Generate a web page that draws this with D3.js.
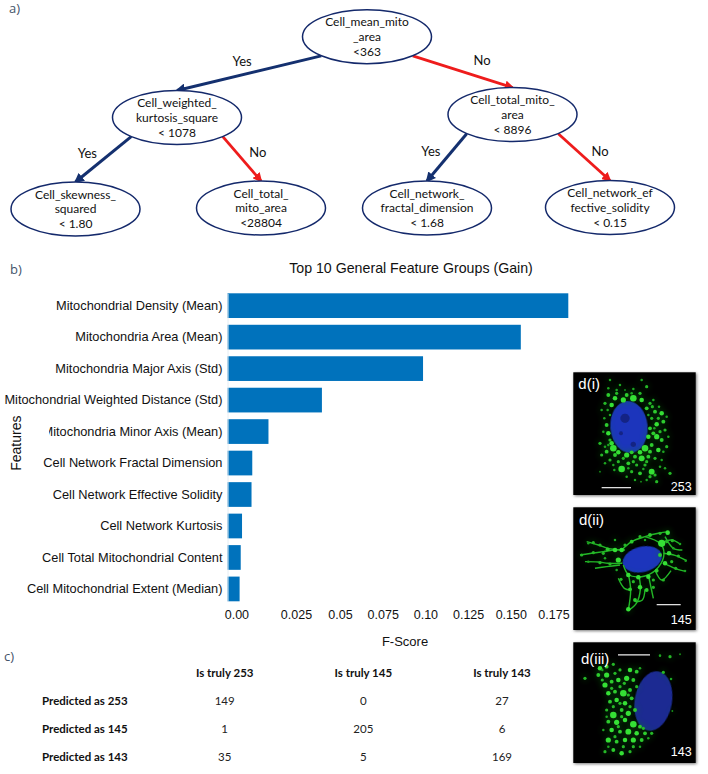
<!DOCTYPE html>
<html>
<head>
<meta charset="utf-8">
<title>Mitochondrial feature figure</title>
<script src="https://cdn.jsdelivr.net/npm/d3@7"></script>
<style>
  html, body { margin: 0; padding: 0; background: #fff; }
  svg { display: block; }
  .panel-tag { font: 13px "Open Sans", sans-serif; fill: #44546a; }
  .node-text { font: 12px Lato, sans-serif; fill: #111; text-anchor: middle; }
  .edge-text { font: 13px Lato, sans-serif; fill: #111; text-anchor: middle; }
  .chart-text { font-family: "Liberation Sans", Arial, sans-serif; fill: #111; }
  .table-head { font: bold 11.5px Lato, sans-serif; fill: #111; }
  .table-cell { font: 11.5px Lato, sans-serif; fill: #222; text-anchor: middle; }
  .micro-text { font-family: "Liberation Sans", Arial, sans-serif; fill: #fff; }
</style>
</head>
<body>
<svg id="fig" width="708" height="774"></svg>
<script>
// ---------- a) decision tree ----------
const treeNodes = [
  { id: 'root', lines: ['Cell_mean_mito', '_area', '<363'] },
  { id: 'l', parent: 'root', side: 'Yes', lines: ['Cell_weighted_', 'kurtosis_square', '< 1078'] },
  { id: 'r', parent: 'root', side: 'No', lines: ['Cell_total_mito_', 'area', '< 8896'] },
  { id: 'll', parent: 'l', side: 'Yes', lines: ['Cell_skewness_', 'squared', '< 1.80'] },
  { id: 'lr', parent: 'l', side: 'No', lines: ['Cell_total_', 'mito_area', '<28804'] },
  { id: 'rl', parent: 'r', side: 'Yes', lines: ['Cell_network_', 'fractal_dimension', '< 1.68'] },
  { id: 'rr', parent: 'r', side: 'No', lines: ['Cell_network_ef', 'fective_solidity', '< 0.15'] },
];

// ---------- b) bar chart ----------
const featureNames = [
  'Mitochondrial Density (Mean)',
  'Mitochondria Area (Mean)',
  'Mitochondria Major Axis (Std)',
  'Mitochondrial Weighted Distance (Std)',
  'Mitochondria Minor Axis (Mean)',
  'Cell Network Fractal Dimension',
  'Cell Network Effective Solidity',
  'Cell Network Kurtosis',
  'Cell Total Mitochondrial Content',
  'Cell Mitochondrial Extent (Median)',
];
const fScores = [0.183, 0.1575, 0.105, 0.0507, 0.022, 0.0133, 0.0129, 0.0078, 0.0071, 0.0065];
const tickValues = [0, 0.025, 0.05, 0.075, 0.1, 0.125, 0.15, 0.175];
const tickLabels = ['0.00', '0.025', '0.05', '0.075', '0.10', '0.125', '0.150', '0.175'];

// ---------- c) confusion table ----------
const trueLabels = ['Is truly 253', 'Is truly 145', 'Is truly 143'];
const predLabels = ['Predicted as 253', 'Predicted as 145', 'Predicted as 143'];
const confusion = [
  [149, 0, 27],
  [1, 205, 6],
  [35, 5, 169],
];

// ---------- d) micrographs: puncta [x, y, r] and strands read off a 3x crop of each panel ----------
const puncta253 = [
  [135,45,2],[165,60,2],[230,45,2],[245,65,3],[205,72,2],[130,90,4],[150,100,5],[175,105,6],[205,100,8],[230,105,5],
  [245,130,4],[120,115,3],[110,135,2],[140,120,5],[200,85,2],[265,105,2],[270,140,4],[290,145,5],[295,170,4],[260,160,3],
  [275,178,5],[255,190,4],[300,195,3],[250,215,5],[275,215,6],[290,225,4],[305,245,3],[260,240,4],[280,255,5],[240,250,8],
  [270,280,3],[135,150,2],[125,180,4],[115,200,2],[130,205,5],[105,235,3],[140,235,5],[145,250,8],[125,260,4],[110,270,3],
  [160,262,5],[185,270,6],[210,275,4],[230,280,7],[250,275,4],[135,285,3],[160,290,3],[190,295,4],[215,300,3],[240,300,3],
  [170,312,8],[145,300,2],[200,320,3],[225,325,4],[260,320,7],[270,330,3],[300,310,2],[315,325,3],[185,335,2],[210,345,2],
  [245,345,2],[275,350,3],[290,285,2],[120,295,2],[105,320,1],[130,70,2],[155,85,3],[185,90,4],[225,85,3],[255,115,3],
  [280,160,3],[285,200,3],[265,205,4],[295,260,2],[255,260,4],[225,262,5],[200,262,4],[150,270,4],[135,225,3],[120,245,2],
  [155,75,2],[180,75,1],[118,160,2],[128,135,2],[262,125,3],[282,125,2],[250,150,2],[305,155,2],[310,215,2],[268,190,2],
  [245,290,3],[205,290,3],[175,280,3],[130,240,2],[148,315,2],[190,310,2],[235,312,2],[285,305,2],[255,335,3],[228,350,1],
];
const puncta145 = [
  [50,165,3],[70,130,2],[85,128,3],[105,135,3],[128,148,4],[150,150,5],[85,158,3],[115,160,3],[70,185,2],[105,188,3],
  [135,192,3],[160,180,6],[170,150,5],[200,125,4],[225,110,3],[255,105,4],[285,100,3],[308,98,5],[290,130,9],[322,122,3],
  [345,132,2],[312,160,5],[340,168,3],[362,182,2],[300,190,5],[332,205,3],[360,213,2],[275,212,4],[295,240,3],[190,225,5],
  [220,232,5],[250,230,5],[195,268,4],[225,262,5],[265,262,3],[210,300,4],[190,328,5],[245,270,4],[168,238,3],[155,210,2],
  [120,175,2],[150,120,2],[180,135,3],[305,125,3],[240,120,2],[325,145,2],[285,165,4],[320,185,3],[265,240,3],[205,245,3],
];
const strands145 = [
  [[45,165],[80,160],[115,155],[150,150],[180,150]],
  [[65,125],[100,135],[130,145],[170,150]],
  [[60,185],[100,186],[130,190],[172,190]],
  [[90,205],[125,200],[165,195]],
  [[170,150],[200,125],[240,110],[280,100],[312,95]],
  [[285,130],[320,120],[345,132]],
  [[295,160],[330,166],[365,182]],
  [[298,190],[330,205],[362,214]],
  [[270,210],[290,240],[318,212]],
  [[190,222],[197,270],[190,330]],
  [[222,228],[226,268],[214,310],[192,330]],
  [[250,225],[265,295]],
  [[175,195],[192,225],[240,228],[280,202],[297,160],[285,130],[240,110]],
  [[210,305],[232,300],[240,268]],
  [[160,235],[178,265],[197,270]],
  [[300,110],[325,145],[352,150]],
];
const puncta143 = [
  [105,100,5],[125,95,4],[145,88,3],[100,120,4],[125,120,6],[150,115,3],[165,105,3],[195,105,5],[215,110,4],[60,130,3],
  [120,150,6],[140,140,4],[160,135,5],[185,130,6],[205,135,4],[225,100,2],[130,175,5],[150,170,4],[175,175,8],[195,165,4],
  [135,200,4],[155,195,5],[180,205,5],[200,190,4],[125,225,3],[145,240,8],[170,225,4],[190,235,6],[210,225,4],[130,260,4],
  [155,262,6],[180,255,5],[205,268,8],[225,275,4],[140,285,5],[165,290,4],[190,290,7],[215,295,5],[240,295,4],[130,315,6],
  [155,320,4],[180,315,5],[205,315,6],[230,315,4],[260,295,3],[120,350,3],[145,345,4],[170,355,5],[195,350,3],[225,335,2],
  [315,65,3],[295,112,3],[318,132,2],[285,62,2],[345,58,1],[322,228,1],
  [112,135,3],[140,160,3],[165,155,3],[112,105,2],[178,145,3],[215,155,3],[145,215,3],[165,205,3],[190,180,3],[125,245,2],
  [170,245,3],[195,215,3],[115,285,2],[150,305,3],[175,335,3],[205,335,3],[250,310,2],[160,275,3],[235,280,3],[130,335,2],
];
const nuclei = [
  { cx: 192, cy: 186, rx: 56, ry: 78, tilt: -5, fill: '#1c34bc' },
  { cx: 232, cy: 178, rx: 60, ry: 38, tilt: -14, fill: '#1c34bc' },
  { cx: 265, cy: 198, rx: 56, ry: 90, tilt: 10, fill: '#1a2a92' },
];
const nucleusSpots = [
  [[180,160,14],[205,238,8],[168,205,6]],
  [],
  [],
];

const svg = d3.select('#fig');
const defs = svg.append('defs');

defs.append('filter').attr('id', 'soft').append('feGaussianBlur').attr('stdDeviation', 0.7);
defs.append('filter').attr('id', 'softer').append('feGaussianBlur').attr('stdDeviation', 3);
defs.append('filter').attr('id', 'shadow').append('feGaussianBlur').attr('stdDeviation', 1.6);

// panel tags
svg.append('text').attr('class', 'panel-tag').attr('x', 9).attr('y', 13).text('a)');
svg.append('text').attr('class', 'panel-tag').attr('x', 10).attr('y', 274).text('b)');
svg.append('text').attr('class', 'panel-tag').attr('x', 4).attr('y', 661).text('c)');

// ---------- Tree ----------
const NODE_RX = 64.5, NODE_RY = 27;
const nodeX = d3.scaleOrdinal(treeNodes.map(d => d.id), [367, 177, 512.5, 75.5, 261, 427, 610]);
const nodeY = d3.scaleOrdinal(treeNodes.map(d => d.id), [36.7, 117.5, 114.5, 209, 208, 208, 207.5]);
const edgeColor = { Yes: '#14306f', No: '#ee1c1c' };
const edgeWidth = { Yes: 3, No: 2.8 };

Object.keys(edgeColor).forEach(side => {
  defs.append('marker')
    .attr('id', 'arrow' + side)
    .attr('viewBox', '0 0 10 10').attr('refX', 8).attr('refY', 5)
    .attr('markerWidth', 3.4).attr('markerHeight', 3.4)
    .attr('markerUnits', 'strokeWidth')
    .attr('orient', 'auto')
    .append('path').attr('d', 'M0,0L10,5L0,10z').attr('fill', edgeColor[side]);
});

const edges = treeNodes.filter(d => d.parent).map(d => {
  const dir = d.side === 'Yes' ? -1 : 1;
  const x1 = nodeX(d.parent) + dir * 0.71 * NODE_RX;
  const y1 = nodeY(d.parent) + 0.71 * NODE_RY;
  const x2 = nodeX(d.id);
  const y2 = nodeY(d.id) - NODE_RY;
  return { ...d, dir, x1, y1, x2, y2 };
});

const treeG = svg.append('g');
treeG.selectAll('line.edge').data(edges).enter().append('line')
  .attr('class', 'edge')
  .attr('x1', d => d.x1).attr('y1', d => d.y1)
  .attr('x2', d => d.x2).attr('y2', d => d.y2)
  .attr('stroke', d => edgeColor[d.side])
  .attr('stroke-width', d => edgeWidth[d.side])
  .attr('marker-end', d => `url(#arrow${d.side})`);

treeG.selectAll('text.edge-text').data(edges).enter().append('text')
  .attr('class', 'edge-text')
  // root edges are shallower, so their labels sit differently
  .attr('x', d => (d.x1 + d.x2) / 2 + (d.parent === 'root' ? (d.dir < 0 ? -7 : 19.5) : d.dir * 16))
  .attr('y', d => (d.y1 + d.y2) / 2 + (d.parent === 'root' ? -7 : -1.5))
  .text(d => d.side);

const nodeG = treeG.selectAll('g.node').data(treeNodes).enter().append('g')
  .attr('class', 'node')
  .attr('transform', d => `translate(${nodeX(d.id)},${nodeY(d.id)})`);
nodeG.append('ellipse')
  .attr('rx', NODE_RX).attr('ry', NODE_RY)
  .attr('fill', '#fff').attr('stroke', '#14296b').attr('stroke-width', 1.5);
nodeG.each(function (d) {
  d3.select(this).selectAll('text').data(d.lines).enter().append('text')
    .attr('class', 'node-text')
    .attr('y', (t, i) => (i - 1) * 14.7 + 4.3)
    .text(t => t);
});

// ---------- Bars ----------
const x = d3.scaleLinear().domain([0, 0.183]).range([227.5, 568.3]);
const y = d3.scaleBand().domain(featureNames).range([293.3, 601.3]).paddingInner(0.215);

svg.append('text').attr('class', 'chart-text')
  .attr('x', 411).attr('y', 273).attr('text-anchor', 'middle')
  .style('font-size', '14.2px')
  .text('Top 10 General Feature Groups (Gain)');

svg.append('g').selectAll('rect').data(featureNames).enter().append('rect')
  .attr('x', x(0))
  .attr('y', d => y(d))
  .attr('width', (d, i) => x(fScores[i]) - x(0))
  .attr('height', y.bandwidth())
  .attr('fill', '#0072bc');

const yAxis = svg.append('g')
  .attr('transform', `translate(${x(0)},0)`)
  .call(d3.axisLeft(y).tickSize(0).tickPadding(5));
yAxis.select('.domain').attr('stroke', '#e6eef4');
yAxis.selectAll('text').attr('class', 'chart-text').style('font-size', '12.8px').attr('fill', null);

// The tick labels in the figure are not evenly placed, nor aligned with the bars
const tickX = d3.scaleLinear().domain([0, 0.025, 0.05, 0.175]).range([236.4, 296, 340, 553.5]);
const xAxis = svg.append('g')
  .attr('transform', 'translate(0,610.5)')
  .call(d3.axisBottom(tickX).tickValues(tickValues).tickSize(0).tickPadding(0)
    .tickFormat((d, i) => tickLabels[i]));
xAxis.select('.domain').remove();
xAxis.selectAll('text').attr('class', 'chart-text').style('font-size', '12.5px').attr('fill', null);

svg.append('text').attr('class', 'chart-text')
  .attr('x', 405).attr('y', 646).attr('text-anchor', 'middle')
  .style('font-size', '13px').text('F-Score');

// white cover that clips the long label, as in the figure
svg.append('rect').attr('x', 24).attr('y', y(featureNames[4])).attr('width', 25).attr('height', y.bandwidth()).attr('fill', '#fff');

svg.append('text').attr('class', 'chart-text')
  .attr('transform', `translate(21,${y(featureNames[4]) + 24}) rotate(-90)`)
  .attr('text-anchor', 'middle')
  .style('font-size', '14px').text('Features');

// ---------- Table ----------
const col = d3.scalePoint().domain(trueLabels).range([224.7, 502]);
const row = d3.scalePoint().domain(predLabels).range([701.3, 756.7]);
const tableG = svg.append('g');

tableG.selectAll('text.col').data(trueLabels).enter().append('text')
  .attr('class', 'table-head col')
  .attr('x', d => col(d)).attr('y', 677).attr('text-anchor', 'middle').text(d => d);
tableG.selectAll('text.row').data(predLabels).enter().append('text')
  .attr('class', 'table-head row')
  .attr('x', 42).attr('y', d => row(d) + 4).text(d => d);
predLabels.forEach((p, i) => {
  tableG.selectAll(`text.cell${i}`).data(confusion[i]).enter().append('text')
    .attr('class', `table-cell cell${i}`)
    .attr('x', (v, j) => col(trueLabels[j]))
    .attr('y', row(p) + 4)
    .text(v => v);
});

// ---------- Micrographs ----------
const panels = [
  { top: 372.3, bottom: 495, tag: 'd(i)', tagX: 40, tagY: 72, num: '253', numY: 377, bar: [110, 198, 368], dots: puncta253, strands: [], nucleus: nuclei[0], spots: nucleusSpots[0] },
  { top: 507.3, bottom: 630, tag: 'd(ii)', tagX: 42, tagY: 75, num: '145', numY: 372, bar: [275, 347, 314], dots: puncta145, strands: strands145, nucleus: nuclei[1], spots: nucleusSpots[1] },
  { top: 642.3, bottom: 763, tag: 'd(iii)', tagX: 48, tagY: 88, num: '143', numY: 363, bar: [159, 255, 60], dots: puncta143, strands: [], nucleus: nuclei[2], spots: nucleusSpots[2] },
];
const line = d3.line().curve(d3.curveCatmullRom);
const dotShade = d3.scaleLinear().domain([1, 5]).range(['#15901a', '#35e035']).clamp(true);

panels.forEach(p => {
  const g = svg.append('g');
  // crop coordinates are 3x of the panel, measured from the crop corner
  const px = d3.scaleLinear().domain([25, 392]).range([573.3, 695.7]);
  const py = d3.scaleLinear().domain([22, 390]).range([p.top, p.top + 122.7]);
  const pr = d3.scaleLinear().domain([0, 3]).range([0, 1]);

  g.append('rect').attr('x', px(25) + 1).attr('y', p.top + 1)
    .attr('width', px(392) - px(25)).attr('height', p.bottom - p.top)
    .attr('fill', '#777').attr('filter', 'url(#shadow)');
  g.append('rect').attr('x', px(25)).attr('y', p.top)
    .attr('width', px(392) - px(25)).attr('height', p.bottom - p.top)
    .attr('fill', '#000');

  const n = p.nucleus;
  g.append('ellipse')
    .attr('transform', `translate(${px(n.cx)},${py(n.cy)}) rotate(${n.tilt})`)
    .attr('rx', pr(n.rx)).attr('ry', pr(n.ry))
    .attr('fill', n.fill).attr('filter', 'url(#soft)');
  g.append('g').attr('filter', 'url(#soft)').selectAll('circle').data(p.spots).enter().append('circle')
    .attr('cx', d => px(d[0])).attr('cy', d => py(d[1])).attr('r', d => pr(d[2]))
    .attr('fill', '#10206e').attr('opacity', 0.7);

  // dim haze under the puncta
  g.append('g').attr('filter', 'url(#softer)').attr('opacity', 0.45)
    .selectAll('circle').data(p.dots).enter().append('circle')
    .attr('cx', d => px(d[0])).attr('cy', d => py(d[1])).attr('r', d => pr(d[2]) + 1.2)
    .attr('fill', '#0d8a12');

  const glow = g.append('g').attr('filter', 'url(#soft)');
  glow.selectAll('path').data(p.strands).enter().append('path')
    .attr('d', s => line(s.map(q => [px(q[0]), py(q[1])])))
    .attr('fill', 'none').attr('stroke', '#24b828').attr('stroke-width', 1.4);
  glow.selectAll('circle').data(p.dots).enter().append('circle')
    .attr('cx', d => px(d[0])).attr('cy', d => py(d[1])).attr('r', d => pr(d[2]) + 0.6)
    .attr('fill', d => dotShade(d[2]));

  g.append('line')
    .attr('x1', px(p.bar[0])).attr('x2', px(p.bar[1]))
    .attr('y1', py(p.bar[2])).attr('y2', py(p.bar[2]))
    .attr('stroke', '#eee').attr('stroke-width', 1.2);
  g.append('text').attr('class', 'micro-text')
    .attr('x', 565 + p.tagX / 3).attr('y', p.top - 7.3 + p.tagY / 3)
    .style('font-size', '15px').text(p.tag);
  g.append('text').attr('class', 'micro-text')
    .attr('x', 565 + 380 / 3).attr('y', p.top - 7.3 + p.numY / 3)
    .attr('text-anchor', 'end')
    .style('font-size', '12.5px').text(p.num);
});
</script>
</body>
</html>
